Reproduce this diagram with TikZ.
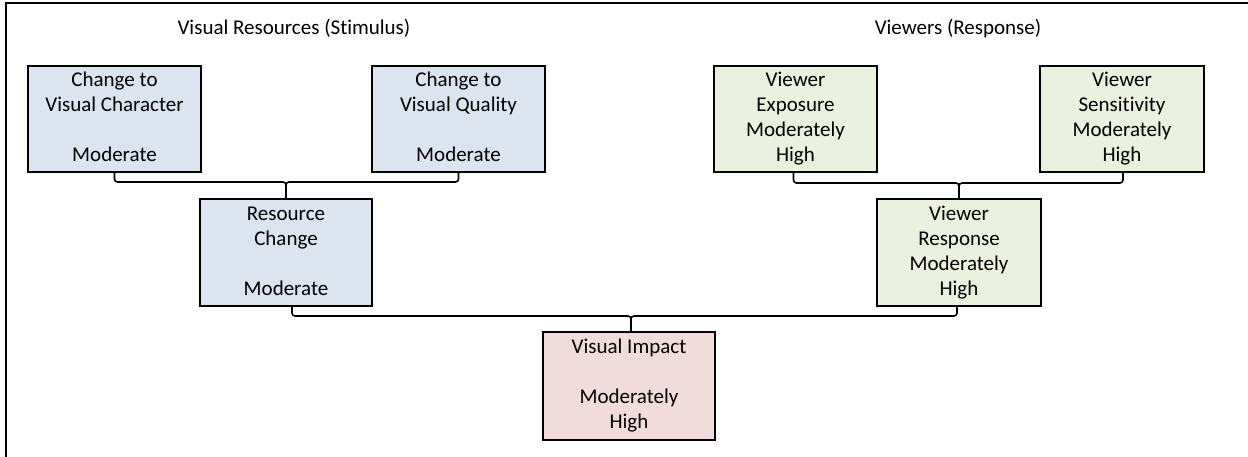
\documentclass[tikz,border=0pt]{standalone}
\usepackage{fontspec}
\setmainfont{Carlito}[Ligatures={NoCommon}]
\usetikzlibrary{calc}
\definecolor{resblue}{HTML}{DCE4F0}
\definecolor{viewgreen}{HTML}{EBF1DF}
\definecolor{impactpink}{HTML}{F2DCDB}
\tikzset{
  box/.style={draw=black, line width=2pt, align=center, inner sep=0pt,
    font=\fontsize{21}{25}\selectfont},
  resbox/.style={box, fill=resblue},
  viewbox/.style={box, fill=viewgreen},
  impactbox/.style={box, fill=impactpink},
  conn/.style={draw=black, line width=1.6pt, rounded corners=3pt},
  heading/.style={font=\fontsize{21}{25}\selectfont, anchor=base, inner sep=0pt}
}
\begin{document}
\begin{tikzpicture}[x=1pt,y=-1pt]
\useasboundingbox (0,0) rectangle (1248,456);
% outer frame, running off the page on the right and at the bottom
\draw[line width=2pt] (6,2.5) rectangle (1280,490);

% column headings
\node[heading] (h1) at (294,34) {Visual Resources (Stimulus)};
\node[heading] (h2) at (958,34) {Viewers (Response)};

% stimulus side
\node[resbox, minimum width=173, minimum height=106] (vc) at (114.5,119)
  {\strut Change to\\\strut Visual Character\\\strut\\\strut Moderate};
\node[resbox, minimum width=173, minimum height=106] (vq) at (458.5,119)
  {\strut Change to\\\strut Visual Quality\\\strut\\\strut Moderate};
\node[resbox, minimum width=172, minimum height=107] (rc) at (286,252.5)
  {\strut Resource\\\strut Change\\\strut\\\strut Moderate};

% response side
\node[viewbox, minimum width=163, minimum height=106] (ve) at (795.5,119)
  {\strut Viewer\\\strut Exposure\\\strut Moderately\\\strut High};
\node[viewbox, minimum width=164, minimum height=106] (vs) at (1122,119)
  {\strut Viewer\\\strut Sensitivity\\\strut Moderately\\\strut High};
\node[viewbox, minimum width=164, minimum height=107] (vr) at (959,252.5)
  {\strut Viewer\\\strut Response\\\strut Moderately\\\strut High};

% result
\node[impactbox, minimum width=172, minimum height=108] (vi) at (629,386)
  {\strut Visual Impact\\\strut\\\strut Moderately\\\strut High};

% bracket joints
\coordinate (j1) at ($(rc.north)+(0,-16)$);
\coordinate (j2) at ($(vr.north)+(0,-15)$);
\coordinate (j3) at ($(vi.north)+(2,-15)$);

% connectors
\draw[conn] (vc.south) |- (j1) -- (rc.north);
\draw[conn] (vq.south) |- (j1) -- (rc.north);
\draw[conn] ($(ve.south)+(-2,0)$) |- (j2) -- (vr.north);
\draw[conn] ($(vs.south)+(1,0)$) |- (j2) -- (vr.north);
\draw[conn] ($(rc.south)+(6,0)$) |- (j3) -- ($(vi.north)+(2,0)$);
\draw[conn] ($(vr.south)+(-2,0)$) |- (j3) -- ($(vi.north)+(2,0)$);
\end{tikzpicture}
\end{document}
